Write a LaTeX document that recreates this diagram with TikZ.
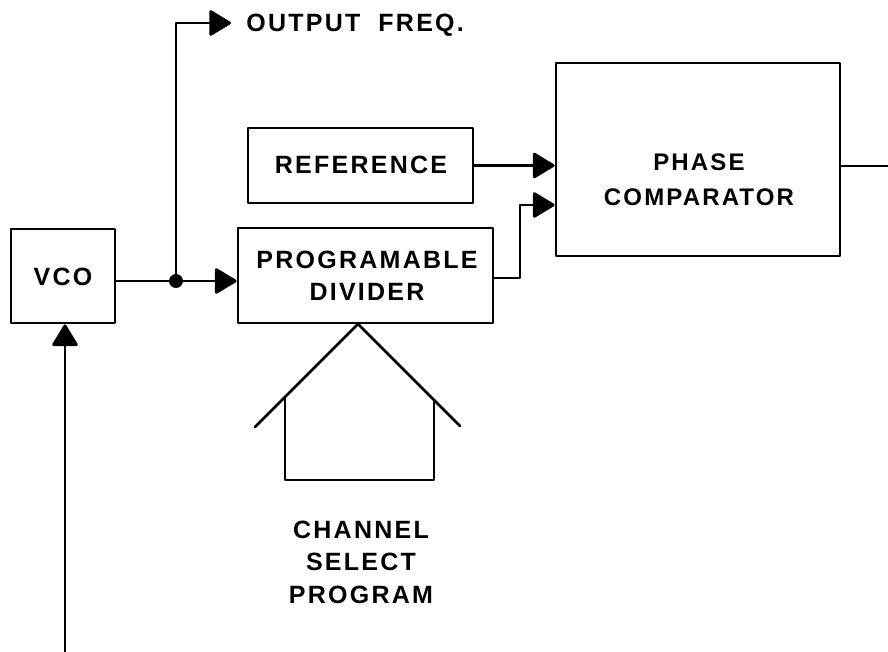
\documentclass[tikz,border=0pt]{standalone}
\usepackage{fontspec}
\newfontfamily\lbl[LetterSpace=9]{Liberation Sans}
\usetikzlibrary{arrows.meta}
\begin{document}
\begin{tikzpicture}[x=1pt,y=-1pt,line width=2.8pt,line join=round,
  blk/.style={draw,rectangle,inner sep=0pt},
  txt/.style={inner sep=0pt,align=center,font=\lbl\bfseries\fontsize{25}{32}\selectfont},
  arr/.style={-{Triangle[length=23pt,width=27pt,round]}}]
\useasboundingbox (0,0) rectangle (888,652);
% blocks
\node[blk,minimum width=104pt,minimum height=94pt] (vco) at (63,276) {};
\node[txt] (vcot) at (63,277) {VCO};
\node[blk,minimum width=225pt,minimum height=75pt] (ref) at (360.5,165.5) {};
\node[txt] (reft) at (361,165) {REFERENCE};
\node[blk,minimum width=255pt,minimum height=95pt] (div) at (365.5,275.5) {};
\node[txt] (divt) at (367,276) {PROGRAMABLE\\DIVIDER};
\node[blk,minimum width=284pt,minimum height=193pt] (comp) at (698,159.5) {};
\node[txt,font=\lbl\bfseries\fontsize{24}{35}\selectfont] (compt) at (699,180) {PHASE\\COMPARATOR};
\node[txt,anchor=west] (outt) at (245,25) {OUTPUT\hspace{18pt}FREQ.};
\node[txt,font=\lbl\bfseries\fontsize{25}{32.5}\selectfont] (chant) at (361,562) {CHANNEL\\SELECT\\PROGRAM};
% coordinates
\coordinate (j) at (176,281);
\coordinate (top) at (176,23);
\coordinate (outtip) at (231,23);
\coordinate (bend) at (520,278);
\coordinate (bend2) at (520,205);
\coordinate (cin2) at (comp.west |- bend2);
\coordinate (right) at (888,166);
\coordinate (fb) at (65,652);
% connectors
\draw (vco.east |- j) -- (j);
\draw[arr] (j) -- (div.west |- j);
\draw[arr] (j) -- (top) -- (outtip);
\fill (j) circle (7pt);
\draw[arr] (ref.east) -- (comp.west |- ref.east);
\draw[arr] (div.east |- bend) -- (bend) -- (bend2) -- (cin2);
\draw (comp.east |- right) -- (right);
\draw[arr] (fb) -- (fb |- vco.south);
% channel select program symbol
\coordinate (apex) at (358,324);
\coordinate (rl) at (255,427);
\coordinate (rr) at (460,426);
\coordinate (wl) at (285,397);
\coordinate (wr) at (434,400);
\coordinate (bl) at (285,480);
\coordinate (br) at (434,480);
\draw[line cap=round] (rl) -- (apex) -- (rr);
\draw (wl) -- (bl) -- (br) -- (wr);
\end{tikzpicture}
\end{document}
